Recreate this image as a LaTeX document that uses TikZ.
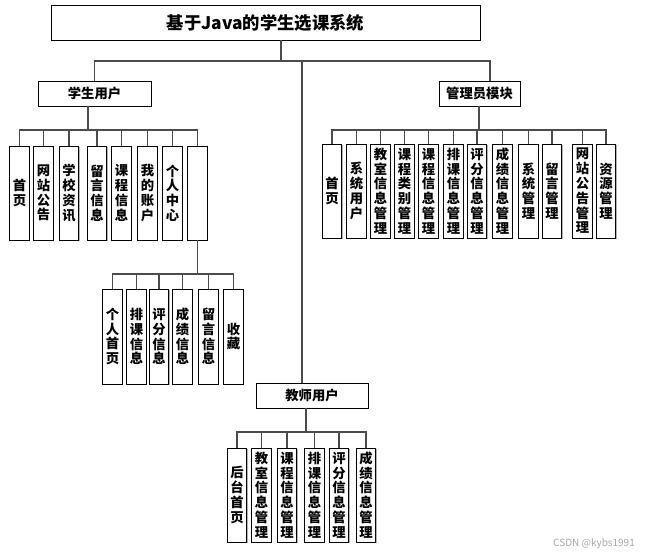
\documentclass[tikz,border=0pt]{standalone}
\usepackage{fontspec}
\setmainfont{Noto Sans CJK SC}
\usetikzlibrary{shadows}
\definecolor{lncol}{RGB}{75,75,75}
\tikzset{
  bx/.style={draw=black, line width=0.7pt, fill=white, inner sep=0pt,
    drop shadow={shadow xshift=0.9pt, shadow yshift=-0.9pt, fill=black, opacity=0.3}},
  titlebox/.style={bx, minimum width=321.75pt, minimum height=26.25pt,
    font=\fontsize{13pt}{15pt}\selectfont\bfseries},
  headbox/.style={bx, minimum height=18.75pt,
    font=\fontsize{10pt}{12pt}\selectfont\bfseries},
  vbox/.style={bx, minimum width=14.6pt, minimum height=70.5pt, align=center,
    font=\fontsize{10pt}{11.1pt}\selectfont\bfseries},
  ln/.style={draw=lncol, line width=0.85pt},
}
\begin{document}
\begin{tikzpicture}[x=0.75pt, y=-0.75pt]
\useasboundingbox (0,0) rectangle (648,556);

% top level
\node[titlebox] (title) at (265.5,22.5) {基于Java的学生选课系统};
\node[headbox, minimum width=84.75pt] (stu) at (94.5,93.5) {学生用户};
\node[headbox, minimum width=60.75pt] (adm) at (479.5,93.5) {管理员模块};
\node[headbox, minimum width=84pt] (tea) at (312,395.5) {教师用户};

% student children
\node[vbox] (s1) at (19.5,193) {首\\页};
\node[vbox] (s2) at (43.5,193) {网\\站\\公\\告};
\node[vbox] (s3) at (69,193) {学\\校\\资\\讯};
\node[vbox] (s4) at (97,193) {留\\言\\信\\息};
\node[vbox] (s5) at (121.5,193) {课\\程\\信\\息};
\node[vbox] (s6) at (147.5,193) {我\\的\\账\\户};
\node[vbox] (s7) at (172.5,193) {个\\人\\中\\心};
\node[vbox] (s8) at (197.5,193) {};

% personal centre children
\node[vbox, minimum height=71.25pt] (u1) at (112.5,336.5) {个\\人\\首\\页};
\node[vbox, minimum height=71.25pt] (u2) at (136.5,336.5) {排\\课\\信\\息};
\node[vbox, minimum height=71.25pt] (u3) at (159,336.5) {评\\分\\信\\息};
\node[vbox, minimum height=71.25pt] (u4) at (182.5,336.5) {成\\绩\\信\\息};
\node[vbox, minimum height=71.25pt] (u5) at (208.5,336.5) {留\\言\\信\\息};
\node[vbox, minimum height=71.25pt] (u6) at (233.5,336.5) {收\\藏};

% admin children
\node[vbox] (a1) at (332,191) {首\\页};
\node[vbox] (a2) at (356.5,191) {系\\统\\用\\户};
\node[vbox] (a3) at (380.5,191) {教\\室\\信\\息\\管\\理};
\node[vbox] (a4) at (404.5,191) {课\\程\\类\\别\\管\\理};
\node[vbox] (a5) at (428.5,191) {课\\程\\信\\息\\管\\理};
\node[vbox] (a6) at (453.5,191) {排\\课\\信\\息\\管\\理};
\node[vbox] (a7) at (477,191) {评\\分\\信\\息\\管\\理};
\node[vbox] (a8) at (502.5,191) {成\\绩\\信\\息\\管\\理};
\node[vbox] (a9) at (528.5,191) {系\\统\\管\\理};
\node[vbox] (a10) at (552,191) {留\\言\\管\\理};
\node[vbox] (a11) at (582.5,191) {网\\站\\公\\告\\管\\理};
\node[vbox] (a12) at (606,191) {资\\源\\管\\理};

% teacher children
\node[vbox] (t1) at (237,495) {后\\台\\首\\页};
\node[vbox] (t2) at (261.5,495) {教\\室\\信\\息\\管\\理};
\node[vbox] (t3) at (287,495) {课\\程\\信\\息\\管\\理};
\node[vbox] (t4) at (314.5,495) {排\\课\\信\\息\\管\\理};
\node[vbox] (t5) at (339,495) {评\\分\\信\\息\\管\\理};
\node[vbox] (t6) at (366,495) {成\\绩\\信\\息\\管\\理};

% junctions
\coordinate (jt) at (281,61);
\coordinate (jr) at (490,61);
\coordinate (jm) at (302,61);
\coordinate (js) at (88,130);
\coordinate (ja) at (479,130);
\coordinate (ju) at (197.5,274);
\coordinate (jte) at (306,432);

% connectors
\begin{scope}[on background layer/.style={}]
\draw[ln] (title.south -| jt) -- (jt);
\draw[ln] (stu.north) |- (jr) -- (jr |- adm.north);
\draw[ln] (jm) -- (jm |- tea.north);

\draw[ln] (stu.south -| js) -- (js);
\draw[ln] (s1.north) |- (js) -| (s8.north);
\foreach \i in {2,...,7} \draw[ln] (s\i.north) -- (s\i.north |- js);

\draw[ln] (adm.south -| ja) -- (ja);
\draw[ln] (a1.north) |- (ja) -| (a12.north);
\foreach \i in {2,...,11} \draw[ln] (a\i.north) -- (a\i.north |- ja);

\draw[ln] (s8.south) -- (ju);
\draw[ln] (u1.north) |- (ju) -| (u6.north);
\foreach \i in {2,...,5} \draw[ln] (u\i.north) -- (u\i.north |- ju);

\draw[ln] (tea.south -| jte) -- (jte);
\draw[ln] (t1.north) |- (jte) -| (t6.north);
\foreach \i in {2,...,5} \draw[ln] (t\i.north) -- (t\i.north |- jte);
\end{scope}

% watermark
\node[text=gray!70, font=\fontsize{7.5pt}{9pt}\selectfont, inner sep=0pt] (wm) at (594,544) {CSDN @kybs1991};
\end{tikzpicture}
\end{document}
